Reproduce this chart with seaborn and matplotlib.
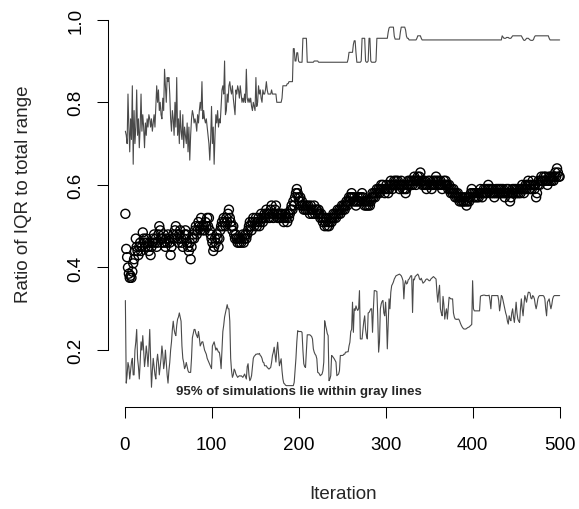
import numpy as np
import pandas as pd
import matplotlib
matplotlib.use("Agg")
import matplotlib.pyplot as plt
import seaborn as sns

# observed ratio of IQR to total range, iterations 1..500
ratio = [
    0.53, 0.445, 0.425, 0.40, 0.385, 0.375, 0.38, 0.375, 0.39, 0.41,
    0.42, 0.44, 0.47, 0.45, 0.44, 0.43, 0.45, 0.46, 0.44, 0.45,
    0.485, 0.47, 0.46, 0.45, 0.47, 0.46, 0.45, 0.44, 0.46, 0.43,
    0.45, 0.46, 0.47, 0.48, 0.46, 0.47, 0.45, 0.46, 0.48, 0.50,
    0.49, 0.47, 0.46, 0.47, 0.48, 0.46, 0.45, 0.47, 0.46, 0.48,
    0.47, 0.46, 0.43, 0.45, 0.47, 0.48, 0.47, 0.49, 0.50, 0.48,
    0.47, 0.46, 0.48, 0.49, 0.47, 0.46, 0.45, 0.47, 0.48, 0.49,
    0.48, 0.46, 0.45, 0.44, 0.46, 0.42, 0.45, 0.47, 0.48, 0.47,
    0.49, 0.50, 0.48, 0.49, 0.51, 0.50, 0.49, 0.52, 0.50, 0.49,
    0.50, 0.49, 0.51, 0.50, 0.52, 0.50, 0.52, 0.49, 0.48, 0.47,
    0.46, 0.44, 0.45, 0.47, 0.46, 0.48, 0.47, 0.45, 0.47, 0.49,
    0.50, 0.51, 0.50, 0.52, 0.51, 0.50, 0.52, 0.51, 0.53, 0.54,
    0.52, 0.51, 0.50, 0.49, 0.50, 0.48, 0.47, 0.48, 0.47, 0.46,
    0.47, 0.46, 0.47, 0.46, 0.47, 0.48, 0.46, 0.47, 0.48, 0.47,
    0.48, 0.49, 0.50, 0.51, 0.50, 0.49, 0.51, 0.52, 0.50, 0.51,
    0.52, 0.50, 0.51, 0.52, 0.50, 0.51, 0.53, 0.52, 0.51, 0.52,
    0.53, 0.52, 0.54, 0.53, 0.52, 0.53, 0.52, 0.54, 0.55, 0.53,
    0.52, 0.53, 0.54, 0.55, 0.53, 0.52, 0.53, 0.52, 0.53, 0.52,
    0.53, 0.52, 0.51, 0.52, 0.53, 0.52, 0.51, 0.53, 0.52, 0.53,
    0.54, 0.55, 0.54, 0.56, 0.55, 0.57, 0.58, 0.59, 0.58, 0.57,
    0.56, 0.57, 0.55, 0.56, 0.55, 0.54, 0.55, 0.54, 0.55, 0.54,
    0.55, 0.54, 0.53, 0.55, 0.54, 0.53, 0.54, 0.55, 0.53, 0.54,
    0.54, 0.53, 0.54, 0.53, 0.52, 0.53, 0.52, 0.51, 0.52, 0.50,
    0.51, 0.52, 0.50, 0.51, 0.50, 0.51, 0.52, 0.51, 0.52, 0.53,
    0.52, 0.53, 0.52, 0.53, 0.54, 0.53, 0.54, 0.53, 0.54, 0.55,
    0.54, 0.55, 0.54, 0.55, 0.56, 0.55, 0.56, 0.57, 0.56, 0.57,
    0.58, 0.57, 0.56, 0.57, 0.56, 0.55, 0.56, 0.57, 0.56, 0.57,
    0.56, 0.57, 0.58, 0.57, 0.56, 0.55, 0.56, 0.55, 0.56, 0.55,
    0.56, 0.55, 0.56, 0.57, 0.58, 0.57, 0.58, 0.57, 0.58, 0.59,
    0.58, 0.59, 0.58, 0.59, 0.60, 0.59, 0.60, 0.59, 0.58, 0.59,
    0.60, 0.59, 0.58, 0.59, 0.60, 0.61, 0.60, 0.59, 0.60, 0.61,
    0.60, 0.61, 0.60, 0.61, 0.60, 0.59, 0.60, 0.61, 0.60, 0.59,
    0.60, 0.59, 0.58, 0.59, 0.60, 0.61, 0.60, 0.61, 0.60, 0.61,
    0.60, 0.61, 0.62, 0.61, 0.60, 0.61, 0.62, 0.61, 0.62, 0.63,
    0.61, 0.60, 0.61, 0.60, 0.61, 0.60, 0.59, 0.60, 0.61, 0.60,
    0.61, 0.60, 0.59, 0.60, 0.61, 0.60, 0.61, 0.62, 0.61, 0.60,
    0.61, 0.60, 0.61, 0.60, 0.59, 0.60, 0.61, 0.60, 0.61, 0.60,
    0.60, 0.59, 0.60, 0.59, 0.58, 0.59, 0.58, 0.59, 0.58, 0.57,
    0.58, 0.57, 0.58, 0.57, 0.56, 0.57, 0.56, 0.57, 0.56, 0.56,
    0.57, 0.56, 0.55, 0.56, 0.57, 0.56, 0.57, 0.58, 0.59, 0.58,
    0.57, 0.58, 0.57, 0.58, 0.57, 0.58, 0.57, 0.58, 0.59, 0.58,
    0.57, 0.58, 0.59, 0.58, 0.59, 0.58, 0.59, 0.60, 0.59, 0.58,
    0.59, 0.58, 0.59, 0.58, 0.57, 0.58, 0.59, 0.58, 0.59, 0.58,
    0.59, 0.58, 0.59, 0.58, 0.59, 0.58, 0.57, 0.58, 0.59, 0.58,
    0.59, 0.58, 0.56, 0.57, 0.58, 0.59, 0.58, 0.59, 0.58, 0.59,
    0.58, 0.59, 0.58, 0.59, 0.58, 0.59, 0.60, 0.59, 0.58, 0.59,
    0.60, 0.59, 0.60, 0.61, 0.60, 0.59, 0.60, 0.59, 0.61, 0.60,
    0.59, 0.60, 0.57, 0.58, 0.60, 0.61, 0.60, 0.61, 0.62, 0.61,
    0.61, 0.62, 0.61, 0.62, 0.61, 0.60, 0.61, 0.62, 0.61, 0.62,
    0.61, 0.62, 0.61, 0.62, 0.63, 0.62, 0.64, 0.63, 0.62, 0.62,
]

# upper 95% simulation bound
upper = [
    0.73, 0.72, 0.70, 0.82, 0.74, 0.68, 0.76, 0.71, 0.84, 0.65,
    0.78, 0.70, 0.74, 0.83, 0.72, 0.76, 0.69, 0.74, 0.82, 0.73,
    0.77, 0.74, 0.69, 0.75, 0.72, 0.76, 0.74, 0.77, 0.76, 0.74,
    0.76, 0.73, 0.75, 0.77, 0.74, 0.79, 0.84, 0.80, 0.83, 0.78,
    0.80, 0.77, 0.76, 0.81, 0.78, 0.88, 0.84, 0.80, 0.86, 0.85,
    0.86, 0.82, 0.76, 0.73, 0.78, 0.76, 0.72, 0.80, 0.74, 0.86,
    0.72, 0.76, 0.70, 0.78, 0.73, 0.71, 0.77, 0.69, 0.74, 0.72,
    0.70, 0.75, 0.68, 0.74, 0.66, 0.72, 0.76, 0.78, 0.77, 0.75,
    0.76, 0.75, 0.73, 0.77, 0.75, 0.78, 0.80, 0.78, 0.85, 0.76,
    0.78, 0.76, 0.75, 0.76, 0.74, 0.72, 0.70, 0.66, 0.71, 0.79,
    0.70, 0.74, 0.65, 0.72, 0.77, 0.75, 0.78, 0.74, 0.76, 0.75,
    0.79, 0.83, 0.84, 0.82, 0.90, 0.77, 0.78, 0.82, 0.80, 0.84,
    0.85, 0.83, 0.82, 0.84, 0.81, 0.79, 0.77, 0.83, 0.82, 0.84,
    0.83, 0.81, 0.84, 0.82, 0.80, 0.81, 0.80, 0.82, 0.80, 0.88,
    0.81, 0.80, 0.81, 0.80, 0.81, 0.79, 0.78, 0.80, 0.79, 0.78,
    0.86, 0.79, 0.80, 0.84, 0.82, 0.83, 0.81, 0.80, 0.83, 0.82,
    0.82, 0.83, 0.85, 0.83, 0.82, 0.82, 0.82, 0.82, 0.83, 0.82,
    0.82, 0.82, 0.82, 0.82, 0.80, 0.80, 0.80, 0.80, 0.80, 0.80,
    0.81, 0.84, 0.84, 0.84, 0.84, 0.84, 0.845, 0.845, 0.85, 0.85,
    0.85, 0.85, 0.85, 0.93, 0.93, 0.90, 0.90, 0.92, 0.92, 0.90,
    0.897, 0.897, 0.897, 0.897, 0.955, 0.955, 0.955, 0.955, 0.955, 0.897,
    0.897, 0.897, 0.897, 0.897, 0.897, 0.897, 0.897, 0.90, 0.90, 0.90,
    0.90, 0.90, 0.897, 0.897, 0.897, 0.897, 0.897, 0.897, 0.897, 0.897,
    0.897, 0.897, 0.897, 0.897, 0.897, 0.897, 0.897, 0.897, 0.897, 0.897,
    0.897, 0.897, 0.897, 0.897, 0.897, 0.897, 0.897, 0.897, 0.897, 0.897,
    0.897, 0.897, 0.897, 0.897, 0.897, 0.897, 0.905, 0.921, 0.921, 0.921,
    0.921, 0.921, 0.94, 0.949, 0.949, 0.92, 0.897, 0.897, 0.897, 0.897,
    0.897, 0.90, 0.955, 0.955, 0.955, 0.955, 0.90, 0.897, 0.897, 0.90,
    0.955, 0.955, 0.90, 0.897, 0.897, 0.897, 0.897, 0.897, 0.90, 0.955,
    0.955, 0.955, 0.955, 0.955, 0.955, 0.955, 0.955, 0.955, 0.955, 0.955,
    0.955, 0.955, 0.97, 0.98, 0.982, 0.982, 0.982, 0.982, 0.982, 0.96,
    0.953, 0.953, 0.953, 0.953, 0.953, 0.953, 0.97, 0.982, 0.982, 0.982,
    0.982, 0.982, 0.975, 0.96, 0.955, 0.955, 0.951, 0.951, 0.951, 0.951,
    0.951, 0.951, 0.951, 0.951, 0.951, 0.955, 0.961, 0.961, 0.961, 0.961,
    0.955, 0.951, 0.951, 0.951, 0.951, 0.951, 0.951, 0.951, 0.951, 0.951,
    0.951, 0.951, 0.951, 0.951, 0.951, 0.951, 0.951, 0.951, 0.951, 0.951,
    0.951, 0.951, 0.951, 0.951, 0.951, 0.951, 0.951, 0.951, 0.951, 0.951,
    0.951, 0.951, 0.951, 0.951, 0.951, 0.951, 0.951, 0.951, 0.951, 0.951,
    0.951, 0.951, 0.951, 0.951, 0.951, 0.951, 0.951, 0.951, 0.951, 0.951,
    0.951, 0.951, 0.951, 0.951, 0.951, 0.951, 0.951, 0.951, 0.951, 0.951,
    0.951, 0.951, 0.951, 0.951, 0.951, 0.951, 0.951, 0.951, 0.951, 0.951,
    0.951, 0.951, 0.951, 0.951, 0.951, 0.951, 0.951, 0.951, 0.951, 0.951,
    0.951, 0.951, 0.951, 0.951, 0.951, 0.951, 0.951, 0.951, 0.951, 0.951,
    0.951, 0.951, 0.951, 0.961, 0.958, 0.955, 0.955, 0.955, 0.957, 0.957,
    0.957, 0.955, 0.955, 0.955, 0.958, 0.961, 0.961, 0.961, 0.961, 0.961,
    0.961, 0.961, 0.961, 0.961, 0.961, 0.961, 0.957, 0.953, 0.950, 0.950,
    0.952, 0.955, 0.955, 0.955, 0.953, 0.951, 0.950, 0.950, 0.950, 0.952,
    0.958, 0.961, 0.961, 0.961, 0.961, 0.961, 0.961, 0.961, 0.961, 0.961,
    0.961, 0.961, 0.961, 0.961, 0.961, 0.961, 0.961, 0.955, 0.951, 0.951,
    0.951, 0.951, 0.951, 0.951, 0.951, 0.951, 0.951, 0.951, 0.951, 0.951,
]

# lower 95% simulation bound
lower = [
    0.32, 0.12, 0.14, 0.17, 0.16, 0.13, 0.15, 0.17, 0.18, 0.14,
    0.14, 0.20, 0.22, 0.25, 0.18, 0.16, 0.13, 0.17, 0.22, 0.20,
    0.235, 0.20, 0.16, 0.18, 0.21, 0.19, 0.16, 0.20, 0.25, 0.18,
    0.11, 0.15, 0.18, 0.16, 0.14, 0.13, 0.17, 0.19, 0.17, 0.14,
    0.16, 0.18, 0.21, 0.19, 0.155, 0.17, 0.20, 0.17, 0.14, 0.12,
    0.15, 0.17, 0.20, 0.22, 0.25, 0.27, 0.25, 0.24, 0.235, 0.26,
    0.275, 0.28, 0.29, 0.28, 0.27, 0.21, 0.18, 0.17, 0.155, 0.16,
    0.17, 0.16, 0.15, 0.146, 0.146, 0.146, 0.18, 0.23, 0.24, 0.25,
    0.25, 0.24, 0.235, 0.23, 0.245, 0.23, 0.21, 0.215, 0.22, 0.22,
    0.21, 0.20, 0.195, 0.19, 0.18, 0.175, 0.17, 0.165, 0.16, 0.155,
    0.21, 0.215, 0.22, 0.21, 0.20, 0.205, 0.20, 0.195, 0.195, 0.18,
    0.155, 0.20, 0.245, 0.26, 0.28, 0.29, 0.30, 0.31, 0.30, 0.30,
    0.27, 0.18, 0.15, 0.134, 0.14, 0.154, 0.15, 0.142, 0.138, 0.134,
    0.136, 0.138, 0.137, 0.138, 0.136, 0.134, 0.138, 0.142, 0.136, 0.13,
    0.16, 0.167, 0.14, 0.126, 0.13, 0.138, 0.16, 0.18, 0.185, 0.187,
    0.19, 0.19, 0.191, 0.19, 0.192, 0.187, 0.185, 0.18, 0.171, 0.17,
    0.162, 0.162, 0.162, 0.158, 0.156, 0.154, 0.156, 0.158, 0.17, 0.187,
    0.195, 0.207, 0.19, 0.171, 0.20, 0.219, 0.19, 0.162, 0.17, 0.179,
    0.15, 0.13, 0.12, 0.118, 0.115, 0.114, 0.114, 0.114, 0.114, 0.114,
    0.114, 0.114, 0.114, 0.114, 0.122, 0.15, 0.18, 0.22, 0.247, 0.245,
    0.245, 0.245, 0.245, 0.243, 0.20, 0.167, 0.16, 0.158, 0.20, 0.237,
    0.237, 0.237, 0.237, 0.235, 0.233, 0.227, 0.203, 0.195, 0.19, 0.187,
    0.179, 0.146, 0.145, 0.142, 0.138, 0.14, 0.142, 0.15, 0.171, 0.271,
    0.26, 0.251, 0.24, 0.235, 0.126, 0.13, 0.138, 0.187, 0.185, 0.182,
    0.179, 0.175, 0.171, 0.138, 0.14, 0.142, 0.15, 0.187, 0.187, 0.187,
    0.187, 0.19, 0.19, 0.195, 0.195, 0.196, 0.196, 0.21, 0.219, 0.245,
    0.25, 0.316, 0.243, 0.30, 0.296, 0.307, 0.30, 0.296, 0.30, 0.344,
    0.227, 0.227, 0.227, 0.25, 0.27, 0.283, 0.25, 0.235, 0.227, 0.29,
    0.291, 0.295, 0.30, 0.30, 0.243, 0.30, 0.344, 0.344, 0.343, 0.342,
    0.283, 0.195, 0.22, 0.30, 0.312, 0.318, 0.32, 0.29, 0.283, 0.316,
    0.28, 0.203, 0.26, 0.324, 0.30, 0.34, 0.356, 0.36, 0.365, 0.372,
    0.376, 0.38, 0.381, 0.382, 0.383, 0.384, 0.382, 0.38, 0.375, 0.368,
    0.324, 0.36, 0.368, 0.36, 0.362, 0.37, 0.372, 0.376, 0.38, 0.38,
    0.291, 0.372, 0.37, 0.378, 0.38, 0.382, 0.384, 0.38, 0.372, 0.37,
    0.374, 0.368, 0.362, 0.364, 0.366, 0.37, 0.372, 0.372, 0.37, 0.368,
    0.368, 0.372, 0.374, 0.376, 0.378, 0.376, 0.374, 0.372, 0.34, 0.316,
    0.34, 0.357, 0.30, 0.29, 0.283, 0.33, 0.31, 0.275, 0.29, 0.30,
    0.275, 0.30, 0.328, 0.326, 0.324, 0.324, 0.324, 0.29, 0.28, 0.275,
    0.275, 0.274, 0.275, 0.275, 0.271, 0.265, 0.26, 0.256, 0.253, 0.251,
    0.251, 0.251, 0.252, 0.254, 0.255, 0.256, 0.258, 0.26, 0.262, 0.368,
    0.30, 0.295, 0.295, 0.295, 0.295, 0.295, 0.295, 0.295, 0.33, 0.332,
    0.332, 0.333, 0.333, 0.333, 0.332, 0.332, 0.332, 0.332, 0.333, 0.32,
    0.30, 0.332, 0.332, 0.332, 0.332, 0.332, 0.332, 0.332, 0.332, 0.32,
    0.295, 0.31, 0.332, 0.33, 0.32, 0.31, 0.30, 0.29, 0.283, 0.27,
    0.263, 0.283, 0.275, 0.271, 0.29, 0.30, 0.28, 0.267, 0.29, 0.316,
    0.29, 0.275, 0.27, 0.267, 0.30, 0.324, 0.30, 0.283, 0.31, 0.332,
    0.324, 0.316, 0.33, 0.34, 0.34, 0.338, 0.326, 0.324, 0.332, 0.33,
    0.324, 0.31, 0.30, 0.31, 0.324, 0.33, 0.332, 0.332, 0.332, 0.332,
    0.332, 0.33, 0.324, 0.30, 0.283, 0.316, 0.32, 0.324, 0.31, 0.30,
    0.31, 0.324, 0.33, 0.332, 0.332, 0.332, 0.332, 0.332, 0.332, 0.332,
]

x_ticks = [0, 100, 200, 300, 400, 500]
y_ticks = [0.2, 0.4, 0.6, 0.8, 1.0]
y_tick_labels = ["0.2", "0.4", "0.6", "0.8", "1.0"]

df = pd.DataFrame({
    "iteration": np.arange(1, len(ratio) + 1),
    "ratio": ratio,
    "upper": upper,
    "lower": lower,
})

sns.set_style("ticks")
plt.rcParams["font.family"] = ["Liberation Sans", "DejaVu Sans"]

fig = plt.figure(figsize=(5.79, 5.10), dpi=100)
ax = fig.add_axes([108 / 579, 102 / 510, 469 / 579, 393.9 / 510])

line_gray = "#4a4a4a"
sns.lineplot(data=df, x="iteration", y="upper", ax=ax, color=line_gray, lw=0.8)
sns.lineplot(data=df, x="iteration", y="lower", ax=ax, color=line_gray, lw=0.8)
sns.scatterplot(data=df, x="iteration", y="ratio", ax=ax, marker="o", s=42,
                facecolors="none", edgecolors="black", linewidths=1.0, zorder=3)

ax.set_xlim(-18.96, 519.96)
ax.set_ylim(0.0622, 1.016)
ax.set_xticks(x_ticks)
ax.set_xticklabels([str(t) for t in x_ticks])
ax.set_yticks(y_ticks)
ax.set_yticklabels(y_tick_labels, rotation=90, va="center")
ax.set_xlabel("")
ax.set_ylabel("")

sns.despine(ax=ax)
ax.spines["left"].set_bounds(0.2, 1.0)
ax.spines["bottom"].set_bounds(0, 500)
for side in ["left", "bottom"]:
    ax.spines[side].set_linewidth(0.75)
    ax.spines[side].set_color("black")
ax.tick_params(direction="out", length=7.9, width=0.75, color="black",
               labelsize=13.5, labelcolor="black")
ax.tick_params(axis="x", pad=13)
ax.tick_params(axis="y", pad=9)

ax.text(200, 0.102, "95% of simulations lie within gray lines",
        ha="center", va="center", fontsize=9.5, fontweight="bold")

fig.text(343 / 579, 1 - 495 / 510, "Iteration", ha="center", va="center", fontsize=13.5)
fig.text(24 / 579, 1 - 194 / 510, "Ratio of IQR to total range", rotation=90,
         ha="center", va="center", fontsize=13.5)

fig.savefig("out.png", dpi=100)
